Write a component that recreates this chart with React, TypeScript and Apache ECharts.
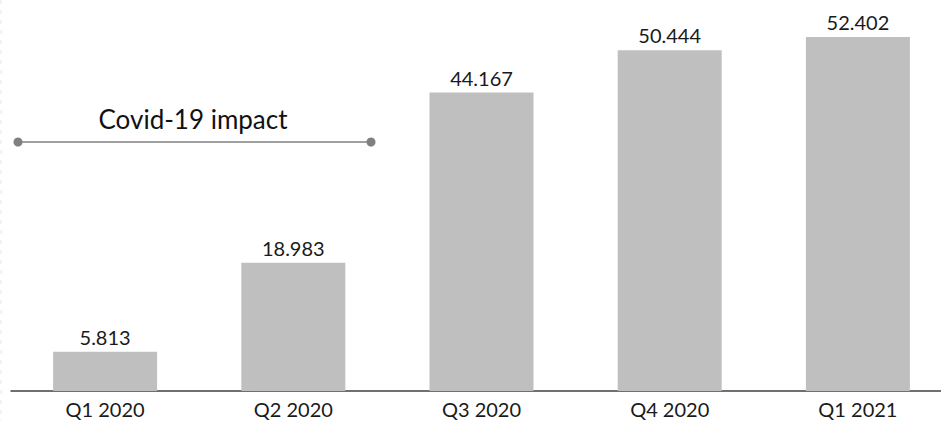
import React, { useEffect, useRef } from "react";
import * as echarts from "echarts";

const categories = ["Q1 2020", "Q2 2020", "Q3 2020", "Q4 2020", "Q1 2021"];
const values = [5.813, 18.983, 44.167, 50.444, 52.402];
const valueLabels = ["5.813", "18.983", "44.167", "50.444", "52.402"];

export default function App() {
  const ref = useRef<HTMLDivElement>(null);
  useEffect(() => {
    if (!ref.current) return;
    const chart = echarts.init(ref.current, null, { renderer: "svg" });
    const font = "Lato, 'Open Sans', sans-serif";
    chart.setOption({
      animation: false,
      grid: { left: 11, top: 19.4, width: 941, height: 371.6 },
      xAxis: {
        type: "category",
        data: categories,
        axisLine: { lineStyle: { color: "#404040", width: 1.5 } },
        axisTick: { show: false },
        axisLabel: { color: "#1a1a1a", fontSize: 20, fontFamily: font, margin: 8 },
      },
      yAxis: {
        type: "value",
        min: 0,
        max: 55,
        show: false,
        splitLine: { show: false },
      },
      series: [
        {
          type: "bar",
          data: values,
          barWidth: 104,
          itemStyle: { color: "#bfbfbf" },
          label: {
            show: true,
            position: "top",
            distance: 5,
            color: "#1a1a1a",
            fontSize: 20,
            fontFamily: font,
            formatter: (p: any) => valueLabels[p.dataIndex],
          },
        },
      ],
      graphic: [
        {
          type: "line",
          shape: { x1: 1, y1: 0, x2: 1, y2: 421 },
          style: { stroke: "#e6e6e6", lineWidth: 1, lineDash: [4, 6] },
        },
        {
          type: "line",
          shape: { x1: 18, y1: 142, x2: 371, y2: 142 },
          style: { stroke: "#a0a0a0", lineWidth: 2 },
        },
        { type: "circle", shape: { cx: 18, cy: 142, r: 4.5 }, style: { fill: "#808080" } },
        { type: "circle", shape: { cx: 371, cy: 142, r: 4.5 }, style: { fill: "#808080" } },
        {
          type: "text",
          x: 193,
          y: 119,
          style: {
            text: "Covid-19 impact",
            fill: "#111111",
            fontSize: 26,
            fontFamily: font,
            align: "center",
            verticalAlign: "middle",
          },
        },
      ],
    });
    return () => chart.dispose();
  }, []);
  return (
    <div style={{ width: 941, height: 421, position: "absolute", left: 0, top: 0, overflow: "hidden" }}>
      <div ref={ref} style={{ width: 952, height: 421 }} />
    </div>
  );
}
